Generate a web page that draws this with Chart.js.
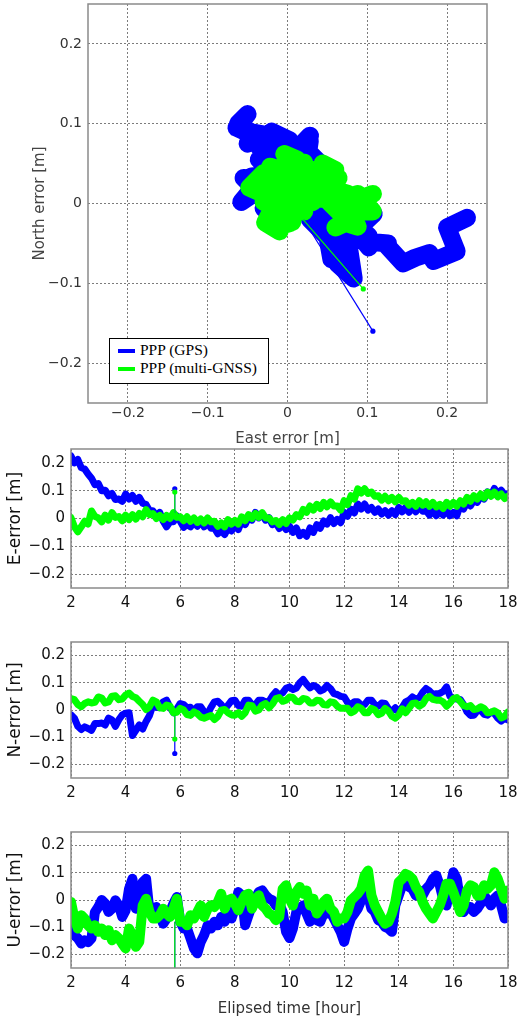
<!DOCTYPE html>
<html>
<head>
<meta charset="utf-8">
<script src="https://cdn.jsdelivr.net/npm/chart.js@4.4.1/dist/chart.umd.min.js"></script>
<style>
  body { margin: 0; background: #fff; width: 517px; height: 1020px; position: relative; overflow: hidden; }
  canvas { position: absolute; left: 0; }
  #legend { position: absolute; left: 109px; top: 338px; width: 158px; height: 42px; border: 1.5px solid #000;
            background: #fff; font-family: "Liberation Serif", serif; font-size: 15.5px; color: #000; padding-top: 2px; box-sizing: content-box; }
  #legend div { height: 18px; line-height: 18px; white-space: nowrap; }
  #legend span.sw { display: inline-block; width: 17px; height: 4px; margin: 0 5px 0 8px; vertical-align: middle; }
</style>
</head>
<body>
<canvas id="enPlot" width="517" height="450" style="top:0"></canvas>
<canvas id="ePlot" width="517" height="175" style="top:440px"></canvas>
<canvas id="nPlot" width="517" height="175" style="top:630px"></canvas>
<canvas id="uPlot" width="517" height="200" style="top:820px"></canvas>
<div id="legend"></div>
<script>
// elapsed time of each epoch [hour], one row per hour
const hours = [
  2, 2.125, 2.25, 2.375, 2.5, 2.625, 2.75, 2.875,
  3, 3.125, 3.25, 3.375, 3.5, 3.625, 3.75, 3.875,
  4, 4.125, 4.25, 4.375, 4.5, 4.625, 4.75, 4.875,
  5, 5.125, 5.25, 5.375, 5.5, 5.625, 5.75, 5.875,
  6, 6.125, 6.25, 6.375, 6.5, 6.625, 6.75, 6.875,
  7, 7.125, 7.25, 7.375, 7.5, 7.625, 7.75, 7.875,
  8, 8.125, 8.25, 8.375, 8.5, 8.625, 8.75, 8.875,
  9, 9.125, 9.25, 9.375, 9.5, 9.625, 9.75, 9.875,
  10, 10.125, 10.25, 10.375, 10.5, 10.625, 10.75, 10.875,
  11, 11.125, 11.25, 11.375, 11.5, 11.625, 11.75, 11.875,
  12, 12.125, 12.25, 12.375, 12.5, 12.625, 12.75, 12.875,
  13, 13.125, 13.25, 13.375, 13.5, 13.625, 13.75, 13.875,
  14, 14.125, 14.25, 14.375, 14.5, 14.625, 14.75, 14.875,
  15, 15.125, 15.25, 15.375, 15.5, 15.625, 15.75, 15.875,
  16, 16.125, 16.25, 16.375, 16.5, 16.625, 16.75, 16.875,
  17, 17.125, 17.25, 17.375, 17.5, 17.625, 17.75, 17.875,
  18];

// position errors [m], GPS only
const gpsE = [
  0.225, 0.2, 0.212, 0.183, 0.178, 0.16, 0.145, 0.122,
  0.126, 0.1, 0.102, 0.082, 0.09, 0.068, 0.07, 0.062,
  0.088, 0.07, 0.083, 0.062, 0.076, 0.055, 0.05, 0.028,
  0.028, 0.008, 0.022, -0.01, -0.03, -0.012, -0.012, 0.01,
  -0.01, -0.032, -0.022, -0.03, -0.014, -0.028, -0.01, -0.03,
  -0.015, -0.035, -0.034, -0.055, -0.043, -0.058, -0.034, -0.045,
  -0.022, -0.04, -0.01, -0.022, 0.003, -0.006, 0.022, 0.002,
  0.015, -0.006, 0.003, -0.022, -0.015, -0.036, -0.022, -0.04,
  -0.028, -0.05, -0.034, -0.062, -0.05, -0.064, -0.034, -0.05,
  -0.022, -0.035, -0.009, -0.02, 0.003, -0.018, -0.003, -0.015,
  0.022, 0.008, 0.034, 0.02, 0.052, 0.034, 0.052, 0.03,
  0.04, 0.022, 0.034, 0.016, 0.028, 0.012, 0.028, 0.014,
  0.04, 0.024, 0.04, 0.022, 0.04, 0.024, 0.046, 0.026,
  0.028, 0.012, 0.028, 0.01, 0.028, 0.012, 0.028, 0.01,
  0.022, 0.01, 0.046, 0.034, 0.059, 0.045, 0.065, 0.058,
  0.083, 0.07, 0.096, 0.082, 0.108, 0.09, 0.102, 0.085,
  0.09];
const gpsN = [
  -0.018, -0.03, -0.06, -0.072, -0.062, -0.068, -0.075, -0.05,
  -0.05, -0.048, -0.055, -0.03, -0.036, -0.06, -0.036, -0.018,
  -0.012, -0.01, -0.094, -0.075, -0.055, -0.07, -0.042, -0.02,
  0.018, 0.01, 0.008, 0.03, 0.036, 0.01, -0.01, 0.004,
  0.024, 0.02, 0.008, 0.01, -0.004, 0.012, 0.012, -0.006,
  -0.016, 0.01, 0.03, 0.032, 0.02, 0.002, 0.018, 0.034,
  0.036, 0.016, 0.014, 0.036, 0.036, 0.02, 0.02, 0.036,
  0.036, 0.03, 0.032, 0.052, 0.067, 0.055, 0.063, 0.08,
  0.085, 0.075, 0.081, 0.1, 0.112, 0.095, 0.081, 0.09,
  0.085, 0.07, 0.075, 0.09, 0.079, 0.06, 0.057, 0.05,
  0.048, 0.028, 0.02, 0.03, 0.03, 0.018, 0.02, 0.036,
  0.036, 0.02, 0.014, 0.026, 0.024, 0.004, -0.004, 0.008,
  -0.007, 0.01, 0.03, 0.036, 0.048, 0.04, 0.045, 0.065,
  0.079, 0.07, 0.057, 0.06, 0.061, 0.068, 0.085, 0.05,
  0.042, 0.04, 0.039, 0.02, -0.007, -0.02, -0.019, -0.004,
  -0.001, -0.016, -0.019, -0.008, -0.013, -0.03, -0.041, -0.03,
  -0.037];
const gpsU = [
  -0.08, -0.13, -0.141, -0.16, -0.148, -0.155, -0.141, -0.045,
  -0.026, 0.0, -0.013, -0.044, -0.032, -0.001, -0.02, -0.062,
  -0.038, 0.041, 0.078, -0.032, 0.017, 0.066, 0.078, -0.044,
  -0.032, -0.026, -0.056, -0.087, -0.068, -0.044, -0.013, 0.011,
  -0.08, -0.105, -0.105, -0.141, -0.178, -0.196, -0.154, -0.129,
  -0.093, -0.105, -0.08, -0.093, -0.062, -0.08, -0.056, -0.068,
  -0.032, 0.029, 0.017, -0.093, -0.056, -0.02, 0.005, 0.029,
  0.035, 0.017, 0.005, -0.001, -0.02, -0.013, -0.044, -0.117,
  -0.14, -0.105, -0.044, -0.032, -0.02, -0.05, -0.08, -0.062,
  -0.074, -0.08, -0.05, -0.05, -0.044, -0.068, -0.093, -0.117,
  -0.154, -0.105, -0.068, -0.05, -0.032, -0.001, 0.017, 0.017,
  -0.032, -0.044, -0.074, -0.08, -0.099, -0.105, -0.117, -0.02,
  0.017, 0.054, 0.066, 0.048, 0.041, 0.017, 0.035, 0.017,
  0.041, 0.054, 0.078, 0.09, 0.054, 0.005, -0.02, 0.041,
  0.102, 0.078, -0.007, -0.044, -0.026, -0.026, -0.044, -0.032,
  -0.013, 0.017, -0.001, -0.02, 0.005, 0.017, -0.02, -0.068,
  -0.056];

// position errors [m], multi-GNSS
const gnssE = [
  0.003, -0.03, -0.048, -0.03, -0.01, -0.02, 0.027, 0.008,
  0.002, -0.012, 0.012, -0.006, 0.021, 0.004, 0.007, -0.008,
  0.012, -0.004, 0.014, -0.002, 0.018, 0.006, 0.032, 0.014,
  0.018, 0.0, 0.011, -0.004, 0.011, 0.0, 0.021, 0.004,
  0.006, -0.008, 0.006, -0.01, 0.002, -0.014, -0.002, -0.016,
  0.002, -0.012, -0.01, -0.028, -0.016, -0.03, -0.004, -0.02,
  -0.007, -0.02, 0.006, -0.008, 0.014, 0.0, 0.018, 0.004,
  0.021, 0.002, 0.002, -0.012, -0.007, -0.022, -0.004, -0.018,
  0.002, -0.006, 0.014, 0.006, 0.033, 0.022, 0.045, 0.03,
  0.051, 0.036, 0.058, 0.042, 0.06, 0.045, 0.045, 0.03,
  0.064, 0.05, 0.082, 0.07, 0.107, 0.092, 0.107, 0.09,
  0.095, 0.08, 0.082, 0.066, 0.08, 0.064, 0.076, 0.06,
  0.076, 0.062, 0.064, 0.048, 0.058, 0.044, 0.064, 0.048,
  0.06, 0.044, 0.058, 0.042, 0.051, 0.036, 0.058, 0.044,
  0.058, 0.044, 0.064, 0.052, 0.076, 0.062, 0.082, 0.07,
  0.088, 0.074, 0.095, 0.08, 0.095, 0.078, 0.088, 0.072,
  0.08];
const gnssN = [
  0.042, 0.038, 0.02, 0.012, 0.024, 0.03, 0.026, 0.028,
  0.048, 0.044, 0.026, 0.03, 0.051, 0.052, 0.038, 0.04,
  0.055, 0.062, 0.05, 0.045, 0.032, 0.02, 0.002, 0.012,
  0.036, 0.03, 0.008, 0.006, 0.018, 0.014, -0.01, -0.008,
  0.006, 0.0, -0.017, -0.02, -0.007, -0.014, -0.026, -0.03,
  -0.025, -0.02, -0.035, -0.024, -0.001, 0.002, -0.01, -0.018,
  -0.019, -0.01, -0.023, -0.01, 0.018, 0.016, -0.004, 0.0,
  0.018, 0.024, 0.008, 0.022, 0.042, 0.046, 0.032, 0.036,
  0.048, 0.046, 0.032, 0.03, 0.042, 0.04, 0.026, 0.026,
  0.036, 0.034, 0.02, 0.018, 0.03, 0.028, 0.014, 0.006,
  0.006, 0.006, -0.01, -0.004, 0.012, 0.006, -0.01, -0.01,
  0.006, 0.0, -0.017, -0.012, 0.006, -0.004, -0.023, -0.03,
  -0.019, 0.004, -0.01, 0.006, 0.024, 0.026, 0.014, 0.022,
  0.042, 0.05, 0.039, 0.036, 0.036, 0.03, 0.014, 0.026,
  0.042, 0.046, 0.032, 0.016, 0.012, 0.016, 0.002, 0.004,
  0.012, 0.006, -0.01, -0.008, -0.003, -0.01, -0.029, -0.024,
  -0.007];
const gnssU = [
  -0.007, -0.068, -0.105, -0.056, -0.068, -0.093, -0.105, -0.093,
  -0.117, -0.105, -0.129, -0.111, -0.148, -0.129, -0.141, -0.16,
  -0.178, -0.105, -0.129, -0.172, -0.154, -0.02, 0.005, -0.044,
  -0.068, -0.068, -0.056, -0.032, -0.05, -0.062, -0.032, 0.005,
  -0.08, -0.08, -0.093, -0.056, -0.068, -0.044, -0.02, -0.062,
  -0.032, -0.02, -0.026, -0.007, 0.023, -0.032, -0.001, 0.005,
  -0.013, -0.038, -0.007, 0.017, 0.023, -0.032, -0.001, 0.017,
  -0.02, -0.032, -0.05, -0.056, -0.074, -0.062, 0.041, 0.054,
  0.005, -0.02, 0.029, 0.048, 0.023, 0.035, -0.02, 0.005,
  -0.05, -0.032, -0.007, 0.005, -0.032, -0.044, -0.08, -0.068,
  -0.068, -0.044, -0.001, 0.011, 0.023, 0.041, 0.09, 0.108,
  0.017, -0.02, -0.044, -0.068, -0.087, -0.08, -0.05, -0.007,
  0.066, 0.078, 0.096, 0.09, 0.078, 0.048, 0.029, -0.007,
  -0.032, -0.05, -0.068, -0.044, -0.02, 0.017, 0.06, 0.06,
  0.029, -0.007, -0.044, -0.02, 0.035, 0.054, 0.048, 0.017,
  0.017, 0.054, 0.041, 0.054, 0.102, 0.078, 0.041, 0.005,
  0.035];

// single bad epoch: [gps, gnss] value before the jump and at the jump
const jumpHour = 5.8;
const jumpBaseE = [0.02, 0.015];
const jumpE = [0.107, 0.095];
const jumpBaseN = [-0.02, -0.015];
const jumpN = [-0.16, -0.107];
const jumpBaseU = [-0.08, -0.08];
const jumpU = [-0.6, -0.6];

const seriesNames = ['PPP (GPS)', 'PPP (multi-GNSS)'];
const seriesColors = ['#0000ff', '#00ff00'];
const errorTicks = [-0.2, -0.1, 0, 0.1, 0.2];
const hourTicks = [2, 4, 6, 8, 10, 12, 14, 16, 18];

Chart.defaults.font.family = '"DejaVu Sans", sans-serif';

const fmt = v => v === 0 ? '0' : String(+v.toFixed(2)).replace('-', '\u2212');

// box round the plot area
const frame = {
  id: 'frame',
  afterDatasetsDraw(chart) {
    const { ctx, chartArea: a } = chart;
    ctx.save();
    ctx.strokeStyle = '#8a8a8a';
    ctx.lineWidth = 1.5;
    ctx.strokeRect(a.left, a.top, a.right - a.left, a.bottom - a.top);
    ctx.restore();
  }
};

function axis(o) {
  return {
    type: 'linear', min: o.min, max: o.max,
    afterBuildTicks: s => { s.ticks = o.ticks.map(v => ({ value: v })); },
    afterFit: s => {
      if (o.width) s.width = o.width;
      if (o.height) s.height = o.height;
      s.paddingLeft = s.paddingRight = s.paddingTop = s.paddingBottom = 0;
    },
    grid: { color: '#7c7c7c', lineWidth: 1, drawTicks: false },
    border: { display: false, dash: [2, 2] },
    ticks: { padding: o.pad, color: o.color, font: { size: o.size }, callback: fmt, maxRotation: 0, autoSkip: false },
    title: { display: !!o.title, text: o.title, color: o.titleColor || o.color, font: { size: o.titleSize }, padding: o.titlePad }
  };
}

function jumpSet(k, base, tip, order) {
  return {
    data: [{ x: base[0], y: base[1] }, { x: tip[0], y: tip[1] }],
    showLine: true,
    borderColor: seriesColors[k], backgroundColor: seriesColors[k], borderWidth: 1.2,
    pointRadius: [0, 2.6], pointBorderWidth: 0, order
  };
}

const thick = (k, data, width, order) => ({
  data, showLine: true, borderColor: seriesColors[k], borderWidth: width,
  borderJoinStyle: 'round', borderCapStyle: 'round', pointRadius: 0, order
});

// East vs North track
const track = (e, n) => e.map((v, i) => ({ x: v, y: n[i] }));
new Chart(document.getElementById('enPlot'), {
  type: 'scatter',
  data: {
    datasets: [
      jumpSet(1, [jumpBaseE[1], jumpBaseN[1]], [jumpE[1], jumpN[1]], 0),
      jumpSet(0, [jumpBaseE[0], jumpBaseN[0]], [jumpE[0], jumpN[0]], 1),
      thick(1, track(gnssE, gnssN), 18, 2),
      thick(0, track(gpsE, gpsN), 18, 3)
    ]
  },
  options: {
    responsive: false, animation: false,
    layout: { padding: { top: 4, right: 30, left: 0, bottom: 0 } },
    plugins: { legend: { display: false }, tooltip: { enabled: false } },
    scales: {
      x: axis({ min: -0.25, max: 0.25, ticks: errorTicks, height: 47, pad: 2, size: 14, color: '#333',
        title: 'East error [m]', titleSize: 15, titleColor: '#444', titlePad: { top: 0, bottom: 2 } }),
      y: axis({ min: -0.25, max: 0.25, ticks: errorTicks, width: 88, pad: 6, size: 14, color: '#333',
        title: 'North error [m]', titleSize: 15, titleColor: '#444', titlePad: { top: 31, bottom: 0 } })
    }
  },
  plugins: [frame]
});

// error component against elapsed time
function timePlot(id, gps, gnss, base, tip, yTitle, xTitle, topPad, lineWidth) {
  const pts = arr => hours.map((h, i) => ({ x: h, y: arr[i] }));
  new Chart(document.getElementById(id), {
    type: 'line',
    data: {
      datasets: [
        jumpSet(1, [jumpHour, base[1]], [jumpHour, tip[1]], 0),
        jumpSet(0, [jumpHour, base[0]], [jumpHour, tip[0]], 1),
        thick(1, pts(gnss), lineWidth, 2),
        thick(0, pts(gps), lineWidth, 3)
      ]
    },
    options: {
      responsive: false, animation: false,
      layout: { padding: { top: topPad, right: 9, left: 0, bottom: 0 } },
      plugins: { legend: { display: false }, tooltip: { enabled: false } },
      scales: {
        x: axis({ min: 2, max: 18, ticks: hourTicks, height: xTitle ? 52 : 27, pad: 6, size: 15, color: '#111',
          title: xTitle, titleSize: 15, titleColor: '#333', titlePad: { top: 0, bottom: 2 } }),
        y: axis({ min: -0.25, max: 0.25, ticks: errorTicks, width: 71, pad: 6, size: 15, color: '#111',
          title: yTitle, titleSize: 17, titlePad: { top: 5, bottom: 0 } })
      }
    },
    plugins: [frame]
  });
}

timePlot('ePlot', gpsE, gnssE, jumpBaseE, jumpE, 'E-error [m]', '', 9, 7);
timePlot('nPlot', gpsN, gnssN, jumpBaseN, jumpN, 'N-error [m]', '', 12, 7);
timePlot('uPlot', gpsU, gnssU, jumpBaseU, jumpU, 'U-error [m]', 'Elipsed time [hour]', 12, 10);

// legend box in the lower left of the track plot
document.getElementById('legend').innerHTML = seriesNames
  .map((name, k) => `<div><span class="sw" style="background:${seriesColors[k]}"></span>${name}</div>`)
  .join('');
</script>
</body>
</html>
